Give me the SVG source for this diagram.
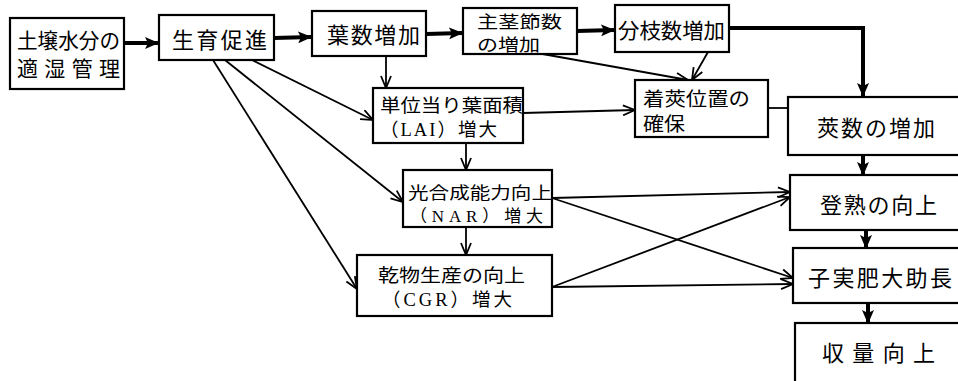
<svg xmlns="http://www.w3.org/2000/svg" width="958" height="381" viewBox="0 0 958 381">
<style>
  .box { fill: #fff; stroke: #000; stroke-width: 2.2; }
  .t { font-family: "Noto Sans CJK JP", "Noto Sans", sans-serif; font-size: 21px; fill: #000; }
  .tl { font-size: 22px; }
  .ts { font-size: 18.5px; }
  .tx { font-size: 17px; }
  .tm { font-size: 19px; }
  .lat { font-family: "Liberation Serif", serif; }
  .thick { fill: none; stroke: #000; stroke-width: 4; marker-end: url(#ah); }
  .thin { fill: none; stroke: #000; stroke-width: 1.8; marker-end: url(#av); }
  .plain { fill: none; stroke: #000; stroke-width: 1.8; }
</style>
<defs>
  <marker id="ah" markerUnits="userSpaceOnUse" markerWidth="14" markerHeight="12" refX="13" refY="6" orient="auto">
    <path d="M0,0 L14,6 L0,12 L3,6 Z" fill="#000"/>
  </marker>
  <marker id="av" markerUnits="userSpaceOnUse" markerWidth="14" markerHeight="12" refX="13" refY="6" orient="auto">
    <path d="M1,1 L13,6 L1,11" fill="none" stroke="#000" stroke-width="1.8"/>
  </marker>
</defs>
<rect width="958" height="381" fill="#fff"/>

<g id="connectors">
  <line class="thick" x1="124" y1="43" x2="158" y2="43"/>
  <line class="thick" x1="274" y1="38" x2="311" y2="37"/>
  <line class="thick" x1="426" y1="34" x2="462" y2="33"/>
  <line class="thick" x1="577" y1="31" x2="614" y2="30"/>
  <path class="thick" d="M729,28 H863 V96"/>
  <line class="thin" x1="537" y1="53" x2="688" y2="80"/>
  <line class="thin" x1="708" y1="52" x2="692" y2="80"/>
  <line class="thin" x1="386" y1="56" x2="386" y2="88"/>
  <line class="thin" x1="523" y1="113" x2="635" y2="110"/>
  <line class="plain" x1="768" y1="108" x2="788" y2="108"/>
  <line class="thin" x1="252" y1="60" x2="373" y2="120"/>
  <line class="thin" x1="225" y1="60" x2="403" y2="202"/>
  <line class="thin" x1="213" y1="60" x2="357" y2="289"/>
  <line class="thin" x1="466" y1="143" x2="466" y2="170"/>
  <line class="thin" x1="466" y1="227" x2="466" y2="255"/>
  <line class="thin" x1="552" y1="198" x2="790" y2="192"/>
  <line class="thin" x1="552" y1="198" x2="793" y2="278"/>
  <line class="thin" x1="552" y1="287" x2="790" y2="197"/>
  <line class="thin" x1="552" y1="287" x2="793" y2="284"/>
  <line class="thick" x1="863" y1="155" x2="863" y2="175"/>
  <line class="thick" x1="866" y1="230" x2="866" y2="248"/>
  <line class="thick" x1="868" y1="303" x2="868" y2="323"/>
</g>

<g id="n1">
  <rect class="box" x="10" y="18" width="114" height="71"/>
  <text class="t" x="17" y="48" textLength="103" lengthAdjust="spacingAndGlyphs">土壌水分の</text>
  <text class="t" x="17" y="76" textLength="103" lengthAdjust="spacing">適湿管理</text>
</g>
<g id="n2">
  <rect class="box" x="159" y="15" width="115" height="45"/>
  <text class="t tl" x="172" y="48" textLength="95" lengthAdjust="spacing">生育促進</text>
</g>
<g id="n3">
  <rect class="box" x="312" y="11" width="114" height="45"/>
  <text class="t tl" x="327" y="43" textLength="93" lengthAdjust="spacing">葉数増加</text>
</g>
<g id="n4">
  <rect class="box" x="463" y="8" width="114" height="46"/>
  <text class="t tx" x="477" y="28" textLength="85" lengthAdjust="spacingAndGlyphs">主茎節数</text>
  <text class="t tx" x="477" y="51" textLength="63" lengthAdjust="spacingAndGlyphs">の増加</text>
</g>
<g id="n5">
  <rect class="box" x="615" y="5" width="114" height="47"/>
  <text class="t" x="618" y="38" textLength="107" lengthAdjust="spacingAndGlyphs">分枝数増加</text>
</g>
<g id="n6">
  <rect class="box" x="635" y="80" width="133" height="57"/>
  <text class="t tm" x="643" y="106" textLength="107" lengthAdjust="spacingAndGlyphs">着莢位置の</text>
  <text class="t tm" x="643" y="131" textLength="42" lengthAdjust="spacingAndGlyphs">確保</text>
</g>
<g id="n7">
  <rect class="box" x="788" y="97" width="174" height="58"/>
  <text class="t tl" x="817" y="136" textLength="118" lengthAdjust="spacing">莢数の増加</text>
</g>
<g id="n8">
  <rect class="box" x="373" y="88" width="150" height="55"/>
  <text class="t ts" x="380" y="112" textLength="143" lengthAdjust="spacingAndGlyphs">単位当り葉面積</text>
  <text class="t ts" x="380" y="136" textLength="117" lengthAdjust="spacing">（<tspan class="lat">LAI</tspan>）増大</text>
</g>
<g id="n9">
  <rect class="box" x="403" y="170" width="149" height="57"/>
  <text class="t tx" x="408" y="199" textLength="144" lengthAdjust="spacingAndGlyphs">光合成能力向上</text>
  <text class="t tx" x="410" y="222" textLength="133" lengthAdjust="spacing">（<tspan class="lat">NAR</tspan>）増大</text>
</g>
<g id="n10">
  <rect class="box" x="357" y="255" width="195" height="61"/>
  <text class="t ts" x="378" y="282" textLength="147" lengthAdjust="spacingAndGlyphs">乾物生産の向上</text>
  <text class="t ts" x="382" y="306" textLength="130" lengthAdjust="spacing">（<tspan class="lat">CGR</tspan>）増大</text>
</g>
<g id="n11">
  <rect class="box" x="790" y="175" width="172" height="55"/>
  <text class="t tl" x="820" y="213" textLength="117" lengthAdjust="spacing">登熟の向上</text>
</g>
<g id="n12">
  <rect class="box" x="793" y="248" width="169" height="55"/>
  <text class="t tl" x="808" y="286" textLength="144" lengthAdjust="spacing">子実肥大助長</text>
</g>
<g id="n13">
  <rect class="box" x="795" y="323" width="167" height="62"/>
  <text class="t tl" x="822" y="361" textLength="113" lengthAdjust="spacing">収量向上</text>
</g>
</svg>
